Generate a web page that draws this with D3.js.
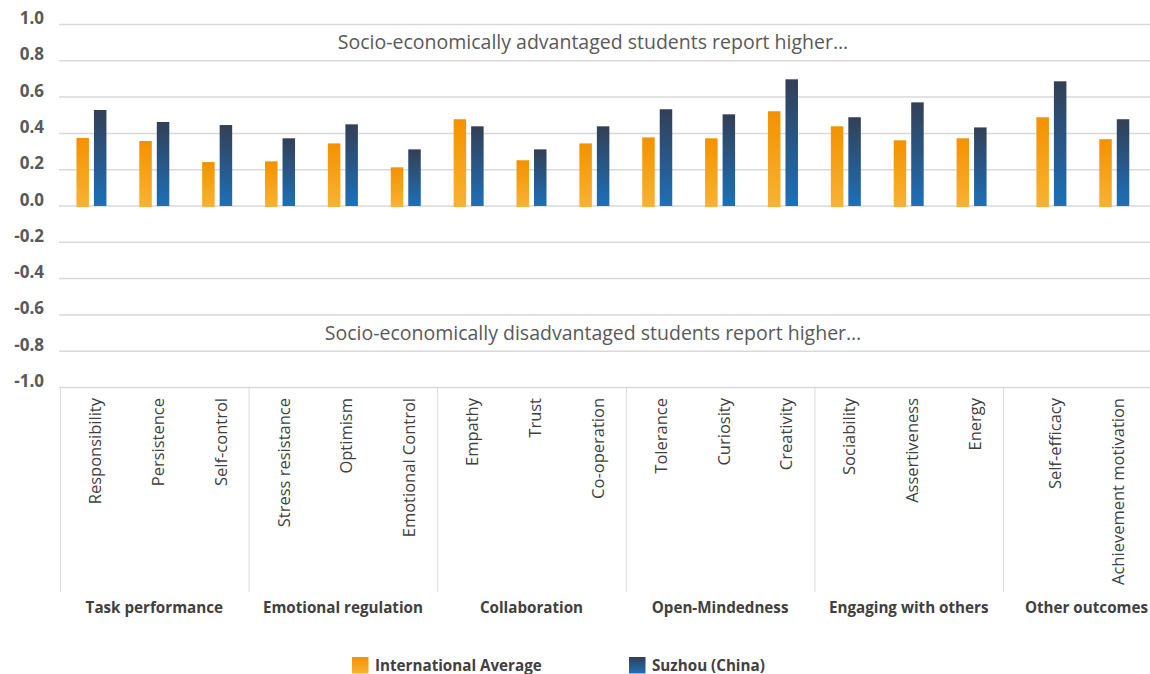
<!DOCTYPE html>
<html>
<head>
<meta charset="utf-8">
<script src="https://cdn.jsdelivr.net/npm/d3@7"></script>
<style>
  html, body { margin: 0; padding: 0; background: #fff; }
  svg { display: block; font-family: "Open Sans", "Noto Sans", sans-serif; }
</style>
</head>
<body>
<div id="chart"></div>
<script>
// Data
var categories = ['Responsibility', 'Persistence', 'Self-control',
                  'Stress resistance', 'Optimism', 'Emotional Control',
                  'Empathy', 'Trust', 'Co-operation',
                  'Tolerance', 'Curiosity', 'Creativity',
                  'Sociability', 'Assertiveness', 'Energy',
                  'Self-efficacy', 'Achievement motivation'];
var groups = ['Task performance', 'Emotional regulation', 'Collaboration',
              'Open-Mindedness', 'Engaging with others', 'Other outcomes'];
var categoryGroup = [0, 0, 0, 1, 1, 1, 2, 2, 2, 3, 3, 3, 4, 4, 4, 5, 5];
var intlAverage = [0.375, 0.358, 0.242, 0.246, 0.345, 0.213, 0.478, 0.252, 0.345,
                   0.378, 0.373, 0.522, 0.439, 0.362, 0.373, 0.489, 0.368];
var suzhou = [0.529, 0.463, 0.446, 0.373, 0.450, 0.312, 0.439, 0.312, 0.439,
              0.533, 0.505, 0.698, 0.489, 0.571, 0.433, 0.687, 0.478];
var seriesNames = ['International Average', 'Suzhou (China)'];
var yTicks = [1.0, 0.8, 0.6, 0.4, 0.2, 0.0, -0.2, -0.4, -0.6, -0.8, -1.0];
var notes = [[0.9, 'Socio-economically advantaged students report higher\u2026'],
             [-0.7, 'Socio-economically disadvantaged students report higher\u2026']];

(function () {
    'use strict';
    var W = 1150, H = 674;
    var ml = 60, top = 24.5, bottom = 387.5, labBottom = 592;
    var slot = (1003 - ml) / 15;
    var TEXT = '#595959', GRID = '#d9d9d9', DARK = '#404040';

    var svg = d3.select('#chart').append('svg')
        .attr('width', W).attr('height', H);

    var defs = svg.append('defs');
    function grad(id, c1, c2) {
        var g = defs.append('linearGradient').attr('id', id)
            .attr('x1', 0).attr('y1', 0).attr('x2', 0).attr('y2', 1);
        g.append('stop').attr('offset', '0%').attr('stop-color', c1);
        g.append('stop').attr('offset', '100%').attr('stop-color', c2);
    }
    grad('gOrange', '#f39200', '#f9b233');
    grad('gBlue', '#333f56', '#1d70b8');
    var fills = ['url(#gOrange)', 'url(#gBlue)'];

    var x = d3.scaleBand().domain(categories).range([ml, ml + categories.length * slot]);
    var y = d3.scaleLinear().domain([-1, 1]).range([bottom, top]);
    var xs = d3.scaleBand().domain(seriesNames).range([0, 30]).paddingInner(5 / 17.5);
    // last group sits a little further right in the reference
    var shiftOf = function (i) { return categoryGroup[i] === groups.length - 1 ? slot * 0.27 : 0; };
    var cx = function (i) { return x(categories[i]) + x.bandwidth() / 2 + shiftOf(i); };
    var fmt = function (t) { return d3.format('.1f')(t).replace('\u2212', '-'); };

    // gridlines + y labels
    yTicks.forEach(function (t) {
        svg.append('line').attr('x1', ml - 1).attr('x2', W)
            .attr('y1', y(t)).attr('y2', y(t))
            .attr('stroke', GRID).attr('stroke-width', 1.5);
        svg.append('text').attr('x', 44).attr('y', y(t) - 0.5)
            .attr('text-anchor', 'end').attr('font-size', 17).attr('font-weight', 'bold')
            .attr('fill', TEXT).text(fmt(t));
    });

    // notes
    notes.forEach(function (n) {
        svg.append('text').attr('x', 593).attr('y', y(n[0]) + 6.5)
            .attr('text-anchor', 'middle').attr('font-size', 19.5)
            .attr('fill', TEXT).text(n[1]);
    });

    // bars
    [intlAverage, suzhou].forEach(function (vals, k) {
        svg.append('g').selectAll('rect').data(vals).enter().append('rect')
            .attr('x', function (d, i) { return cx(i) - 15 + xs(seriesNames[k]); })
            .attr('width', xs.bandwidth())
            .attr('y', function (d) { return y(Math.max(0, d)); })
            .attr('height', function (d) { return Math.abs(y(d) - y(0)) + (k === 0 ? 1 : 0); })
            .attr('fill', fills[k]);
    });

    // category labels
    categories.forEach(function (c, i) {
        svg.append('text')
            .attr('transform', 'translate(' + (cx(i) + 9.5) + ',' + 398 + ') rotate(-90)')
            .attr('text-anchor', 'end').attr('font-size', 16.5)
            .attr('fill', DARK).text(c);
    });

    // group separators and labels (last group runs off the right edge)
    groups.forEach(function (g, gi) {
        var idx = d3.range(categories.length).filter(function (i) { return categoryGroup[i] === gi; });
        var x0 = x(categories[idx[0]]);
        var x1 = Math.max(x0 + 3 * slot,
            x(categories[idx[idx.length - 1]]) + x.bandwidth() + shiftOf(idx[idx.length - 1]));
        svg.append('line').attr('x1', x0 + 0.5).attr('x2', x0 + 0.5)
            .attr('y1', bottom).attr('y2', labBottom)
            .attr('stroke', GRID).attr('stroke-width', 1);
        var t = svg.append('text').attr('x', (x0 + x1) / 2).attr('y', 613)
            .attr('text-anchor', 'middle').attr('font-size', 15.2).attr('font-weight', 'bold')
            .attr('fill', DARK).text(g);
        var len = t.node().getComputedTextLength();
        if ((x0 + x1) / 2 + len / 2 > W - 2) t.attr('x', W - 2 - len / 2);
    });

    // legend
    var lx = [352, 629];
    seriesNames.forEach(function (s, k) {
        svg.append('rect').attr('x', lx[k]).attr('y', 657)
            .attr('width', 16.5).attr('height', 16.5).attr('fill', fills[k]);
        svg.append('text').attr('x', lx[k] + 23).attr('y', 671)
            .attr('font-size', 15.2).attr('font-weight', 'bold')
            .attr('fill', DARK).text(s);
    });
})();
</script>
</body>
</html>
